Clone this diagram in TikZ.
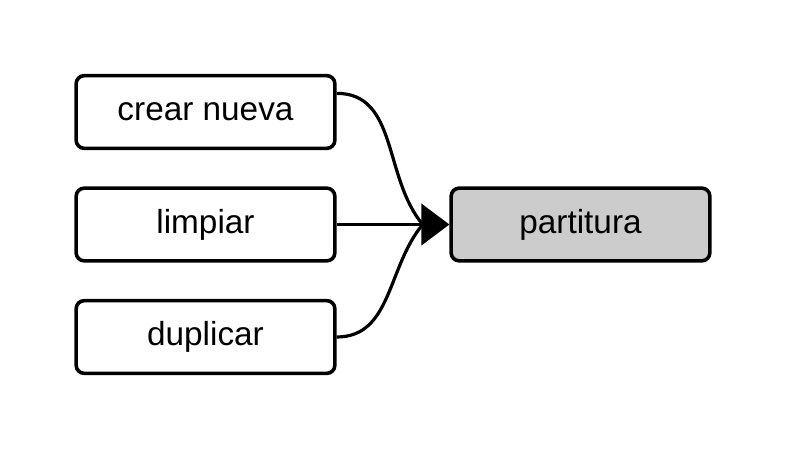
\documentclass[tikz,border=0pt]{standalone}
\usepackage{fontspec}
\setmainfont{Liberation Sans}
\usetikzlibrary{arrows.meta}
\tikzset{
  box/.style={draw, line width=2.7pt, rounded corners=6pt, minimum width=194pt,
    minimum height=54.5pt, inner sep=0pt, font=\fontsize{25}{30}\selectfont},
  link/.style={line width=2.4pt},
  flow/.style={link, -{Triangle[length=21pt,width=31pt]}}
}
\begin{document}
\begin{tikzpicture}[x=0.75pt, y=-0.75pt]
    \useasboundingbox (0,0) rectangle (788,450);

    % Inputs
    \node[box] (crear) at (205.5,112) {crear nueva};
    \node[box] (limpiar) at (205.5,224.5) {limpiar};
    \node[box] (duplicar) at (205.5,337) {duplicar};

    % Target
    \node[box, fill=black!20] (partitura) at (580.5,224.5) {partitura};
    \coordinate (merge) at ([xshift=-20pt]partitura.west);

    % Arrows
    \draw[link] ([yshift=14pt]crear.east) to[out=0, in=130] (merge);
    \draw[link] (duplicar.east) to[out=0, in=-130] (merge);
    \draw[flow] (limpiar.east) -- (partitura.west);
\end{tikzpicture}
\end{document}
